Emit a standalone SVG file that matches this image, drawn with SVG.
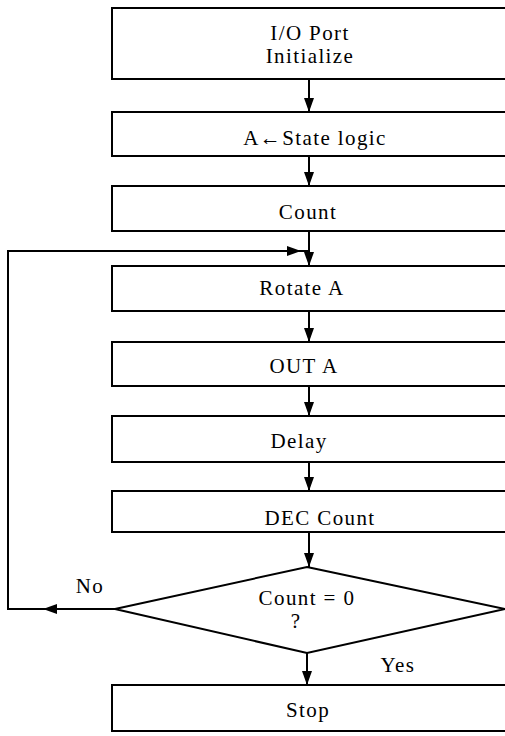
<svg xmlns="http://www.w3.org/2000/svg" width="505" height="736" viewBox="0 0 505 736">
<style>
.box{fill:#fff;stroke:#000;stroke-width:2}
.t{font-family:'Liberation Serif','DejaVu Serif','Times New Roman',serif;font-size:21px;fill:#000;text-anchor:middle;letter-spacing:1.4px}
.c{fill:none;stroke:#000;stroke-width:2}
</style>
<defs>
<marker id="ah" viewBox="0 0 14 10" refX="14" refY="5" markerWidth="14" markerHeight="10" markerUnits="userSpaceOnUse" orient="auto">
<path d="M0,0 L14,5 L0,10 Z" fill="#000"/>
</marker>
</defs>
<rect width="505" height="736" fill="#fff"/>
<g id="connectors">
<line class="c" x1="309" y1="79" x2="309" y2="112" marker-end="url(#ah)"/>
<line class="c" x1="309" y1="156" x2="309" y2="186" marker-end="url(#ah)"/>
<line class="c" x1="309" y1="231" x2="309" y2="266" marker-end="url(#ah)"/>
<line class="c" x1="309" y1="311" x2="309" y2="342" marker-end="url(#ah)"/>
<line class="c" x1="309" y1="386" x2="309" y2="416" marker-end="url(#ah)"/>
<line class="c" x1="309" y1="462" x2="309" y2="491" marker-end="url(#ah)"/>
<line class="c" x1="309" y1="532" x2="309" y2="567" marker-end="url(#ah)"/>
<line class="c" x1="307" y1="653" x2="307" y2="685" marker-end="url(#ah)"/>
<line class="c" x1="115" y1="609" x2="43" y2="609" marker-end="url(#ah)"/>
<polyline class="c" points="43,609 8,609 8,251 301,251" marker-end="url(#ah)"/>
<line class="c" x1="301" y1="251" x2="309" y2="251"/>
</g>
<g id="n1"><rect class="box" x="112" y="8" width="400" height="71"/><text class="t" x="310" y="40">I/O Port</text><text class="t" x="310" y="63">Initialize</text></g>
<g id="n2"><rect class="box" x="112" y="112" width="400" height="44"/><text class="t" x="315" y="145">A←State logic</text></g>
<g id="n3"><rect class="box" x="112" y="186" width="400" height="45"/><text class="t" x="308" y="219">Count</text></g>
<g id="n4"><rect class="box" x="112" y="266" width="400" height="45"/><text class="t" x="302" y="295">Rotate A</text></g>
<g id="n5"><rect class="box" x="112" y="342" width="400" height="44"/><text class="t" x="304" y="373">OUT A</text></g>
<g id="n6"><rect class="box" x="112" y="416" width="400" height="46"/><text class="t" x="299" y="448">Delay</text></g>
<g id="n7"><rect class="box" x="112" y="491" width="400" height="41"/><text class="t" x="320" y="525">DEC Count</text></g>
<g id="n8"><polygon class="box" points="307,567 505,609 307,653 115,609"/><text class="t" x="307" y="605">Count = 0</text><text class="t" x="296" y="628">?</text></g>
<g id="n9"><rect class="box" x="112" y="685" width="400" height="46"/><text class="t" x="308" y="717">Stop</text></g>
<text class="t" x="90" y="593">No</text>
<text class="t" x="398" y="672">Yes</text>
</svg>
